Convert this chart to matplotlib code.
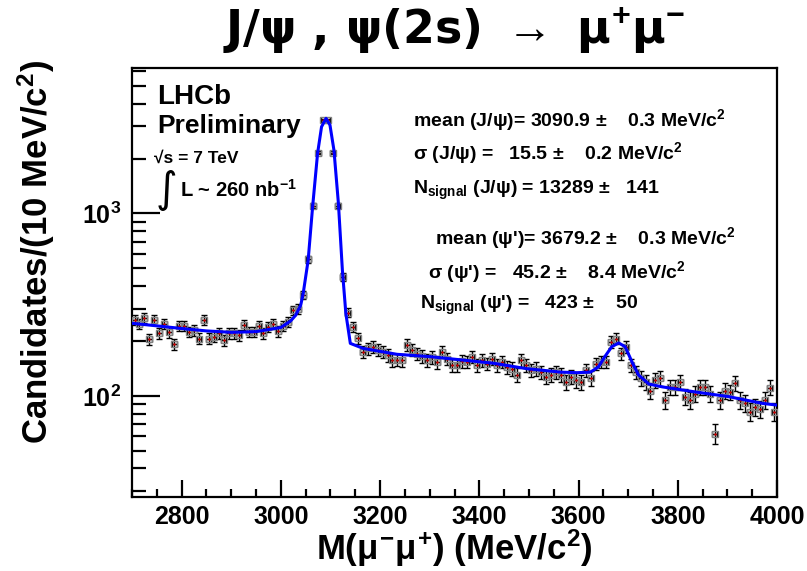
import numpy as np
import matplotlib
matplotlib.use("Agg")
from matplotlib import pyplot as plt
from matplotlib.ticker import MultipleLocator, LogLocator, NullFormatter, FixedLocator, FixedFormatter

plt.rcParams['font.family'] = ['Liberation Sans', 'DejaVu Sans']
plt.rcParams['font.weight'] = 'bold'
plt.rcParams['axes.labelweight'] = 'bold'
plt.rcParams['mathtext.fontset'] = 'custom'
plt.rcParams['mathtext.rm'] = 'Liberation Sans:bold'
plt.rcParams['mathtext.it'] = 'Liberation Sans:bold'
plt.rcParams['mathtext.bf'] = 'Liberation Sans:bold'
plt.rcParams['mathtext.sf'] = 'Liberation Sans:bold'

# dimuon mass histogram, 10 MeV bins from 2700 to 4000 MeV
bin_lo = 2700
bin_width = 10
counts = [
    262, 249, 268, 204, 260, 221, 249, 223, 192, 241,
    241, 224, 229, 206, 262, 206, 211, 221, 202, 220,
    221, 215, 246, 224, 224, 241, 220, 239, 249, 226,
    241, 255, 295, 300, 359, 561, 1101, 2156, 3243, 3243,
    2156, 1101, 449, 286, 240, 207, 174, 182, 186, 178,
    174, 167, 157, 158, 157, 190, 178, 170, 165, 157,
    163, 153, 174, 160, 147, 147, 155, 154, 164, 147,
    157, 150, 160, 147, 154, 144, 141, 130, 157, 147,
    138, 141, 135, 127, 130, 135, 130, 119, 127, 122,
    119, 138, 125, 150, 154, 154, 198, 206, 171, 186,
    147, 135, 125, 119, 107, 122, 125, 95, 112, 112,
    119, 99, 95, 103, 112, 112, 103, 62, 95, 107,
    105, 117, 95, 91, 82, 87, 85, 95, 111, 82,
]

# fitted model (signal peaks + background), sampled along the mass axis
fit_mass = [2700, 2750, 2800, 2850, 2900, 2950, 3000, 3020, 3030, 3040,
            3045, 3055, 3064, 3074, 3082, 3091, 3099, 3107, 3116, 3124,
            3131, 3140, 3166, 3234, 3301, 3368, 3428, 3495, 3563, 3597,
            3624, 3640, 3653, 3667, 3681, 3694, 3708, 3721, 3742, 3769,
            3836, 3903, 3970, 4000]
fit_value = [250, 242, 234, 227, 223, 225, 237, 258, 277, 314,
             364, 554, 1087, 2134, 2985, 3318, 3050, 2223, 1135, 489,
             283, 194, 182, 169, 164, 157, 151, 141, 135, 134,
             135, 144, 164, 186, 195, 186, 153, 130, 116, 112,
             105, 99, 91, 89]

fit_lines = [
    (r"mean (J/$\psi$)= 3090.9 $\pm$    0.3 MeV/c$^{2}$", 413, 120),
    (r"$\sigma$ (J/$\psi$) =   15.5 $\pm$    0.2 MeV/c$^{2}$", 413, 153),
    (r"N$_{\rm signal}$ (J/$\psi$) = 13289 $\pm$   141", 413, 190),
    (r"mean ($\psi$')= 3679.2 $\pm$    0.3 MeV/c$^{2}$", 435, 238),
    (r"$\sigma$ ($\psi$') =   45.2 $\pm$    8.4 MeV/c$^{2}$", 428, 272),
    (r"N$_{\rm signal}$ ($\psi$') =   423 $\pm$    50", 420, 305),
]

counts = np.array(counts, dtype=float)
centers = bin_lo + bin_width * (np.arange(len(counts)) + 0.5)
errors = np.sqrt(counts)

fig = plt.figure(figsize=(8.07, 5.71), dpi=100)
ax = fig.add_axes([0.1636, 0.1296, 0.7992, 0.7513])

ax.errorbar(centers, counts, yerr=errors, xerr=bin_width / 2, fmt='none',
            ecolor='black', elinewidth=1.0, capsize=2.0, capthick=1.0, zorder=2)
ax.plot(centers, counts, 's', ms=4, mfc='none', mec='#808080', mew=1.0, zorder=3)
ax.plot(centers, counts, '.', ms=1.5, color='#dd0000', zorder=4)
ax.plot(fit_mass, fit_value, color='#0000ff', lw=2.2, zorder=5)

ax.set_yscale('log')
ax.set_xlim(2700, 4000)
ax.set_ylim(27.9, 6270)

ax.xaxis.set_major_locator(MultipleLocator(200))
ax.xaxis.set_minor_locator(MultipleLocator(50))
ax.yaxis.set_major_locator(FixedLocator([100, 1000]))
ax.yaxis.set_major_formatter(FixedFormatter([r'10$^{2}$', r'10$^{3}$']))
ax.yaxis.set_minor_locator(LogLocator(base=10, subs=np.arange(2, 10)))
ax.yaxis.set_minor_formatter(NullFormatter())

ax.tick_params(which='both', direction='in', top=False, right=False, width=1.6)
ax.tick_params(axis='x', which='major', length=12, labelsize=18, pad=6)
ax.tick_params(axis='x', which='minor', length=6)
ax.tick_params(axis='y', which='major', length=20, labelsize=18, pad=8)
ax.tick_params(axis='y', which='minor', length=10)
for side in ax.spines.values():
    side.set_linewidth(1.6)

ax.set_xlabel(r'M($\mu^{-}\mu^{+}$) (MeV/c$^{2}$)', fontsize=25)
ax.xaxis.set_label_coords(0.5, -0.072)
ax.set_ylabel(r'Candidates/(10 MeV/c$^{2}$)', fontsize=25)
ax.yaxis.set_label_coords(-0.116, 0.571)

fig.text(0.5626, 0.947, r'J/ψ , ψ(2s) $\rightarrow$ μ$^{+}$μ$^{-}$', ha='center', va='center',
         fontsize=33, family='DejaVu Sans', weight='bold')

def px(x, y):
    return x / 807.0, 1 - y / 571.0

fig.text(*px(157, 97), 'LHCb', fontsize=20, va='center')
fig.text(*px(157, 126), 'Preliminary', fontsize=19, va='center')
fig.text(*px(154, 158), '√s = 7 TeV', fontsize=12.5, va='center')
fig.text(*px(156, 190), '∫', fontsize=30, va='center', family='DejaVu Sans', weight='normal')
fig.text(*px(180, 190), r'L ~ 260 nb$^{-1}$', fontsize=14.5, va='center')

for label, x, y in fit_lines:
    fig.text(*px(x, y), label, fontsize=14, va='center')

fig.savefig('out.png', dpi=100)
